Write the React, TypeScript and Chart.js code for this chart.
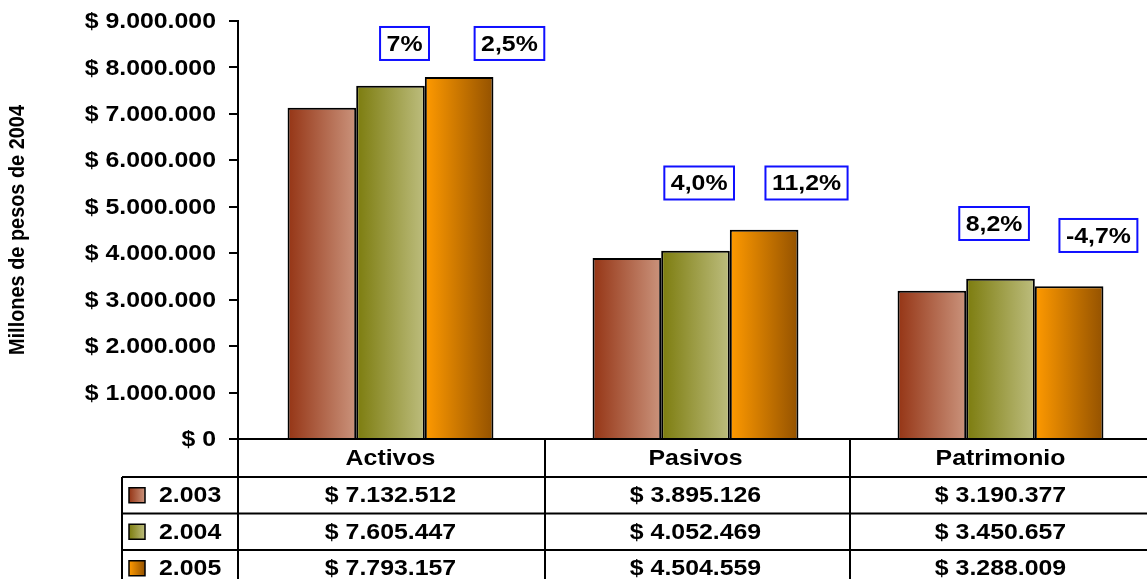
import React, { useEffect, useRef } from "react";
import { Chart, registerables } from "chart.js";

Chart.register(...registerables);

// ---------- data ----------
const categories = ["Activos", "Pasivos", "Patrimonio"];
const seriesLabels = ["2.003", "2.004", "2.005"];
const values2003 = [7132512, 3895126, 3190377];
const values2004 = [7605447, 4052469, 3450657];
const values2005 = [7793157, 4504559, 3288009];
const yTickValues = [0, 1000000, 2000000, 3000000, 4000000, 5000000, 6000000, 7000000, 8000000, 9000000];
const yAxisTitle = "Millones de pesos de 2004";
const growthLabels = ["7%", "2,5%", "4,0%", "11,2%", "8,2%", "-4,7%"];

// ---------- label placement (category index, offset in category widths, value) ----------
const growthAnchors = [
  { cat: 0, dx: 0.046, v: 8516000 },
  { cat: 0, dx: 0.39, v: 8516000 },
  { cat: 1, dx: 0.012, v: 5512000 },
  { cat: 1, dx: 0.364, v: 5512000 },
  { cat: 2, dx: -0.021, v: 4640000 },
  { cat: 2, dx: 0.321, v: 4382000 },
];

// ---------- styles ----------
const gradientStops = [
  ["#953515", "#ca937c"],
  ["#7c7c0e", "#bdbd7e"],
  ["#ff9a00", "#945200"],
];
const FONT = '"Liberation Sans", Arial, sans-serif';
const SIZE = 22;
const STRETCH = 1.13;

function fmt(v: number): string {
  const s = Math.round(v).toString().replace(/\B(?=(\d{3})+(?!\d))/g, ".");
  return "$ " + s;
}

function stretchText(
  ctx: CanvasRenderingContext2D,
  text: string,
  x: number,
  y: number,
  align: CanvasTextAlign,
  size = SIZE,
  sx = STRETCH
) {
  ctx.save();
  ctx.font = `bold ${size}px ${FONT}`;
  ctx.textAlign = align;
  ctx.textBaseline = "middle";
  ctx.fillStyle = "#000";
  ctx.translate(x, y);
  ctx.scale(sx, 1);
  ctx.fillText(text, 0, 0);
  ctx.restore();
}

const decorPlugin = {
  id: "decor",
  beforeDatasetsDraw(chart: any) {
    const ctx = chart.ctx as CanvasRenderingContext2D;
    chart.data.datasets.forEach((_ds: any, di: number) => {
      const meta = chart.getDatasetMeta(di);
      meta.data.forEach((el: any) => {
        const { x, width } = el.getProps(["x", "width"], true);
        const g = ctx.createLinearGradient(x - width / 2, 0, x + width / 2, 0);
        g.addColorStop(0, gradientStops[di][0]);
        g.addColorStop(1, gradientStops[di][1]);
        el.options.backgroundColor = g;
      });
    });
  },
  afterDraw(chart: any) {
    const ctx = chart.ctx as CanvasRenderingContext2D;
    const area = chart.chartArea;
    const xs = chart.scales.x;
    const ys = chart.scales.y;

    // y tick labels
    yTickValues.forEach((v) => {
      stretchText(ctx, fmt(v), area.left - 22, ys.getPixelForValue(v) + 1, "right");
    });

    // y axis title
    ctx.save();
    ctx.font = `bold 22px ${FONT}`;
    const tw = ctx.measureText(yAxisTitle).width;
    ctx.translate(18, (area.top + area.bottom) / 2);
    ctx.rotate(-Math.PI / 2);
    ctx.scale(250 / tw, 1);
    ctx.textAlign = "center";
    ctx.textBaseline = "middle";
    ctx.fillStyle = "#000";
    ctx.fillText(yAxisTitle, 0, 0);
    ctx.restore();

    // data table
    const top = area.bottom;
    const headerH = 38;
    const rowH = 36.5;
    const tableLeft = 122;
    const right = chart.width;
    const bottom = top + headerH + rowH * seriesLabels.length;
    const catW = xs.getPixelForValue(1) - xs.getPixelForValue(0);

    ctx.save();
    ctx.strokeStyle = "#000";
    ctx.lineWidth = 2;
    ctx.beginPath();
    ctx.moveTo(area.left, top);
    ctx.lineTo(right, top);
    for (let r = 0; r <= seriesLabels.length; r++) {
      const y = top + headerH + rowH * r;
      ctx.moveTo(tableLeft, y);
      ctx.lineTo(right, y);
    }
    ctx.moveTo(tableLeft, top + headerH);
    ctx.lineTo(tableLeft, bottom);
    ctx.moveTo(area.left, top);
    ctx.lineTo(area.left, bottom);
    for (let i = 1; i < categories.length; i++) {
      const x = xs.getPixelForValue(i) - catW / 2 + 2;
      ctx.moveTo(x, top);
      ctx.lineTo(x, bottom);
    }
    ctx.stroke();
    ctx.restore();

    const series = [values2003, values2004, values2005];
    categories.forEach((c, i) => {
      const cx = xs.getPixelForValue(i);
      stretchText(ctx, c, cx, top + headerH / 2 + 1, "center");
      series.forEach((vals, r) => {
        const cy = top + headerH + rowH * r + rowH / 2 + 1;
        stretchText(ctx, fmt(vals[i]), cx, cy, "center");
      });
    });

    // legend keys in table
    seriesLabels.forEach((lab, r) => {
      const cy = top + headerH + rowH * r + rowH / 2;
      const kx = 129;
      const kw = 16;
      const kh = 15;
      const g = ctx.createLinearGradient(kx, 0, kx + kw, 0);
      g.addColorStop(0, gradientStops[r][0]);
      g.addColorStop(1, gradientStops[r][1]);
      ctx.save();
      ctx.fillStyle = g;
      ctx.fillRect(kx, cy - kh / 2, kw, kh);
      ctx.strokeStyle = "#000";
      ctx.lineWidth = 1.5;
      ctx.strokeRect(kx, cy - kh / 2, kw, kh);
      ctx.restore();
      stretchText(ctx, lab, 159, cy + 1, "left");
    });

    // growth annotations
    growthLabels.forEach((t, i) => {
      const a = growthAnchors[i];
      const cx = xs.getPixelForValue(a.cat) + a.dx * catW;
      const cy = ys.getPixelForValue(a.v);
      ctx.save();
      ctx.font = `bold ${SIZE}px ${FONT}`;
      const w = ctx.measureText(t).width * STRETCH + 13;
      const h = 33;
      ctx.fillStyle = "#fff";
      ctx.fillRect(cx - w / 2, cy - h / 2, w, h);
      ctx.strokeStyle = "#1010ff";
      ctx.lineWidth = 2;
      ctx.strokeRect(cx - w / 2, cy - h / 2, w, h);
      ctx.restore();
      stretchText(ctx, t, cx, cy + 1, "center");
    });
  },
};

export default function App() {
  const ref = useRef<HTMLCanvasElement | null>(null);

  useEffect(() => {
    if (!ref.current) return;
    const series = [values2003, values2004, values2005];
    const chart = new Chart(ref.current, {
      type: "bar",
      data: {
        labels: categories,
        datasets: series.map((vals, i) => ({
          label: seriesLabels[i],
          data: vals,
          backgroundColor: (c: any) => gradientStops[c.datasetIndex][0],
          borderColor: "#000",
          borderWidth: 2,
          categoryPercentage: 0.675,
          barPercentage: 1,
        })),
      },
      options: {
        responsive: false,
        animation: false,
        devicePixelRatio: 1,
        layout: { padding: { top: 21, bottom: 140, left: 0, right: 0 } },
        plugins: {
          legend: { display: false },
          tooltip: { enabled: false },
        },
        scales: {
          x: { display: false },
          y: {
            min: 0,
            max: 9000000,
            ticks: { stepSize: 1000000, display: false },
            grid: {
              drawOnChartArea: false,
              drawTicks: true,
              tickLength: 9,
              color: "#000",
              lineWidth: 2,
            },
            border: { display: true, color: "#000", width: 2 },
            afterFit: (s: any) => {
              s.width = 238;
            },
          },
        },
      },
      plugins: [decorPlugin],
    } as any);
    return () => chart.destroy();
  }, []);

  return (
    <div
      style={{
        position: "fixed",
        left: 0,
        top: 0,
        width: 1147,
        height: 579,
        overflow: "hidden",
        background: "#fff",
      }}
    >
      <canvas ref={ref} width={1153} height={579} style={{ display: "block" }} />
    </div>
  );
}
